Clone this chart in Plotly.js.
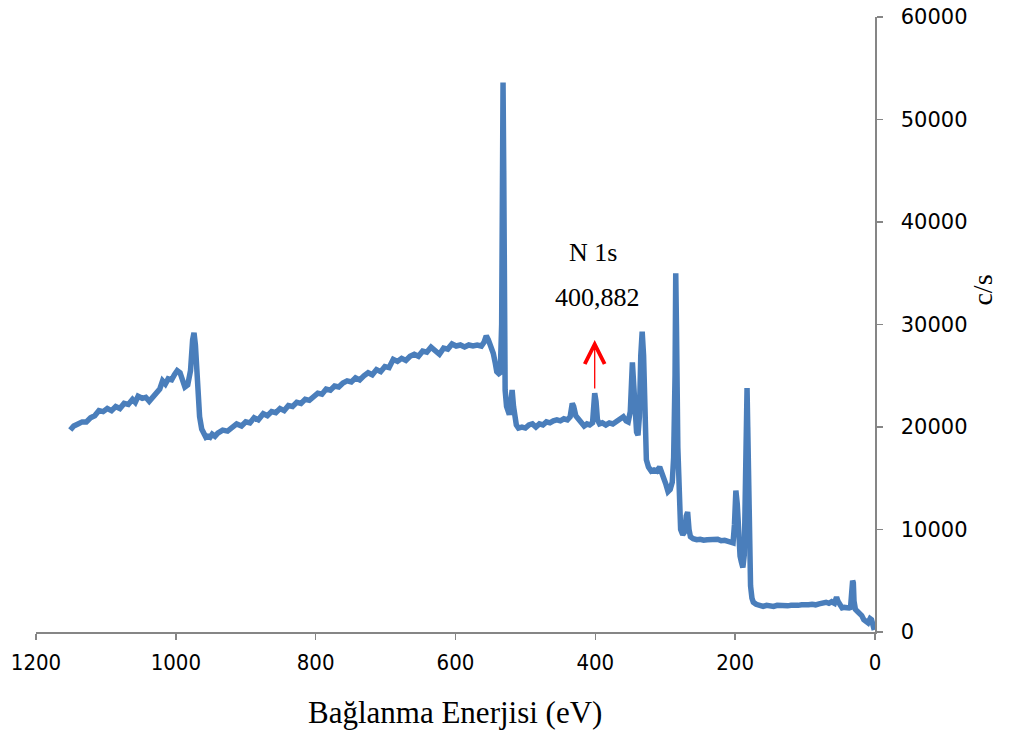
<!DOCTYPE html>
<html>
<head>
<meta charset="utf-8">
<script src="https://cdn.plot.ly/plotly-3.0.1.min.js"></script>
<style>html,body{margin:0;padding:0;background:#fff;}#chart{width:1022px;height:732px;}</style>
</head>
<body>
<div id="chart"></div>
<script>
// Binding energy (eV)
const energy = [
1151,1146,1140,1134,1128,1122,1116,1110,1104,1098,1092,1086,1080,1074,1068,1062,1058,1054,1048,1043,1038,1033,1028,1023,1019,1015,1011,1006,1002,998,994,990,987,983,979,976,974,972,970,968,966,963,960,957,954,951,948,944,
940,933,926,920,913,906,900,894,888,882,875,869,863,857,851,845,839,833,827,821,815,809,803,797,791,785,779,773,767,761,755,749,743,737,731,725,719,713,707,701,695,689,683,677,671,665,659,653,647,641,635,629,623,617,611,605,599,593,587,581,575,569,563,559,556,553,549,546,543,541,538,536,534,533,532,531,530,529,527,525,523,521,519,517,515,513,510,505,500,495,490,485,480,475,470,465,460,455,450,445,440,436,433,431,428,425,420,416,412,408,404,402,400.9,399,397,394,390,385,380,375,370,365,360,356,353,350,348,347,345,343,341,339,337,335,333,331,329,327,324,320,316,312,308,305,302,299,296,293,290,288,286,285,284,282,280,278,275,272,270,268,266,264,260,255,250,245,240,235,230,225,220,215,210,206,203,201,199,197,195,193,191,189,187,185,183,182,180,178,176,174,170,165,160,155,150,145,140,135,130,125,120,115,110,105,100,95,90,85,80,75,70,66,62,58,55,53,50,47,44,40,37,35,33,32,31,30,28,25,22,19,16,13,10,7,5,3,1
];
// Intensity (c/s)
const counts = [
19700,20100,20300,20500,20500,20900,21100,21600,21500,21800,21600,22000,21800,22300,22200,22700,22400,23000,22800,22900,22500,22900,23300,23700,24500,24200,24700,24600,25100,25500,25300,24400,23900,24100,25500,28500,29200,28000,25000,22600,21000,19800,19200,19000,19100,19000,19300,19100,
19400,19700,19600,20000,20300,20100,20500,20400,20900,20700,21300,21100,21500,21400,21800,21600,22100,22000,22400,22300,22700,22600,23000,23300,23200,23700,23600,24000,23900,24300,24500,24400,24800,24600,25000,25300,25100,25600,25400,25900,25800,26600,26400,26700,26500,26900,27100,26900,27400,27300,27800,27500,27100,27700,27600,28100,27900,28000,27800,28000,27900,28000,27900,28300,28900,28500,27900,27200,26200,25400,25200,25300,30000,45000,53600,45000,30000,23600,22000,21400,21200,22300,23600,22000,20600,20200,19900,20000,19900,20200,20300,20000,20300,20200,20500,20400,20600,20700,20600,20800,20700,21000,22300,22000,21100,20800,20400,20100,20300,20200,20400,21800,23300,22500,20700,20300,20400,20200,20400,20300,20500,20800,21000,20600,20500,21500,25000,26300,24000,20600,19500,19200,21000,27000,29300,27000,20000,16800,16100,15700,15800,15700,16100,15600,14900,14400,13700,13900,14600,17000,25000,35000,30000,18000,11000,10000,9500,9800,11300,11700,10000,9300,9100,9000,9050,8950,9000,9000,8950,9050,8900,8950,8850,8700,8700,10500,13800,12500,8500,7400,6800,6300,7500,14000,23800,20000,10000,4500,3300,2900,2700,2600,2500,2600,2550,2500,2600,2550,2600,2550,2600,2550,2600,2650,2600,2650,2700,2650,2750,2800,2900,2800,2950,2800,3400,3000,2500,2350,2400,2300,2350,2400,3500,5000,4800,3000,2200,2000,1800,1600,1200,1000,900,1300,1200,700,200
];
const xTicks = [1200,1000,800,600,400,200,0];
const yTicks = [0,10000,20000,30000,40000,50000,60000];
const xTitle = "Bağlanma Enerjisi (eV)";
const yTitle = "c/s";
const peakLabel = "N 1s";
const peakValue = "400,882";
const peakEnergy = 400.9;

const trace = {
  x: energy, y: counts, type: 'scatter', mode: 'lines',
  line: {color: '#4a7ebb', width: 5.5, shape: 'linear'},
  hoverinfo: 'skip'
};

const serif = "Liberation Serif, Times New Roman, serif";
const layout = {
  width: 1022, height: 732,
  margin: {l: 36, r: 147, t: 17, b: 100},
  paper_bgcolor: '#fff', plot_bgcolor: '#fff',
  showlegend: false,
  xaxis: {
    range: [1200, 0], autorange: false,
    tickvals: xTicks, ticktext: xTicks.map(String),
    showgrid: false, zeroline: false,
    showline: true, linecolor: '#868686', linewidth: 1.5,
    ticks: 'outside', ticklen: 6, tickcolor: '#868686', tickwidth: 1.5,
    tickfont: {family: "DejaVu Sans Condensed, DejaVu Sans, sans-serif", size: 22, color: '#000'},
    ticklabelstandoff: 4
  },
  yaxis: {
    side: 'right', range: [0, 60000], autorange: false,
    tickvals: yTicks, ticktext: yTicks.map(String),
    showgrid: false, zeroline: false,
    showline: true, linecolor: '#868686', linewidth: 1.5,
    ticks: 'outside', ticklen: 6, tickcolor: '#868686', tickwidth: 1.5,
    tickfont: {family: "DejaVu Sans, sans-serif", size: 21, color: '#000'},
    ticklabelstandoff: 14
  },
  annotations: [
    {xref: 'paper', yref: 'paper', x: 0.4994, xanchor: 'center', y: 0, yshift: -80, yanchor: 'middle',
     text: xTitle, showarrow: false, font: {family: serif, size: 31, color: '#000'}},
    {xref: 'paper', yref: 'paper', x: 1.149, y: 0.556, text: yTitle, showarrow: false,
     textangle: -90, font: {family: serif, size: 28, color: '#000'}},
    {xref: 'x', yref: 'y', x: 403, y: 37070, text: peakLabel, showarrow: false,
     font: {family: serif, size: 26, color: '#000'}},
    {xref: 'x', yref: 'y', x: 397.6, y: 32680, text: peakValue, showarrow: false,
     font: {family: serif, size: 26, color: '#000'}},
    {xref: 'x', yref: 'y', x: peakEnergy, y: 28500, ax: 0, ay: 50, axref: 'pixel', ayref: 'pixel',
     text: '', showarrow: true, arrowhead: 5, arrowsize: 3, arrowwidth: 1.3, arrowcolor: '#ff0000'}
  ]
};

Plotly.newPlot('chart', [trace], layout, {staticPlot: true, displayModeBar: false});
</script>
</body>
</html>
